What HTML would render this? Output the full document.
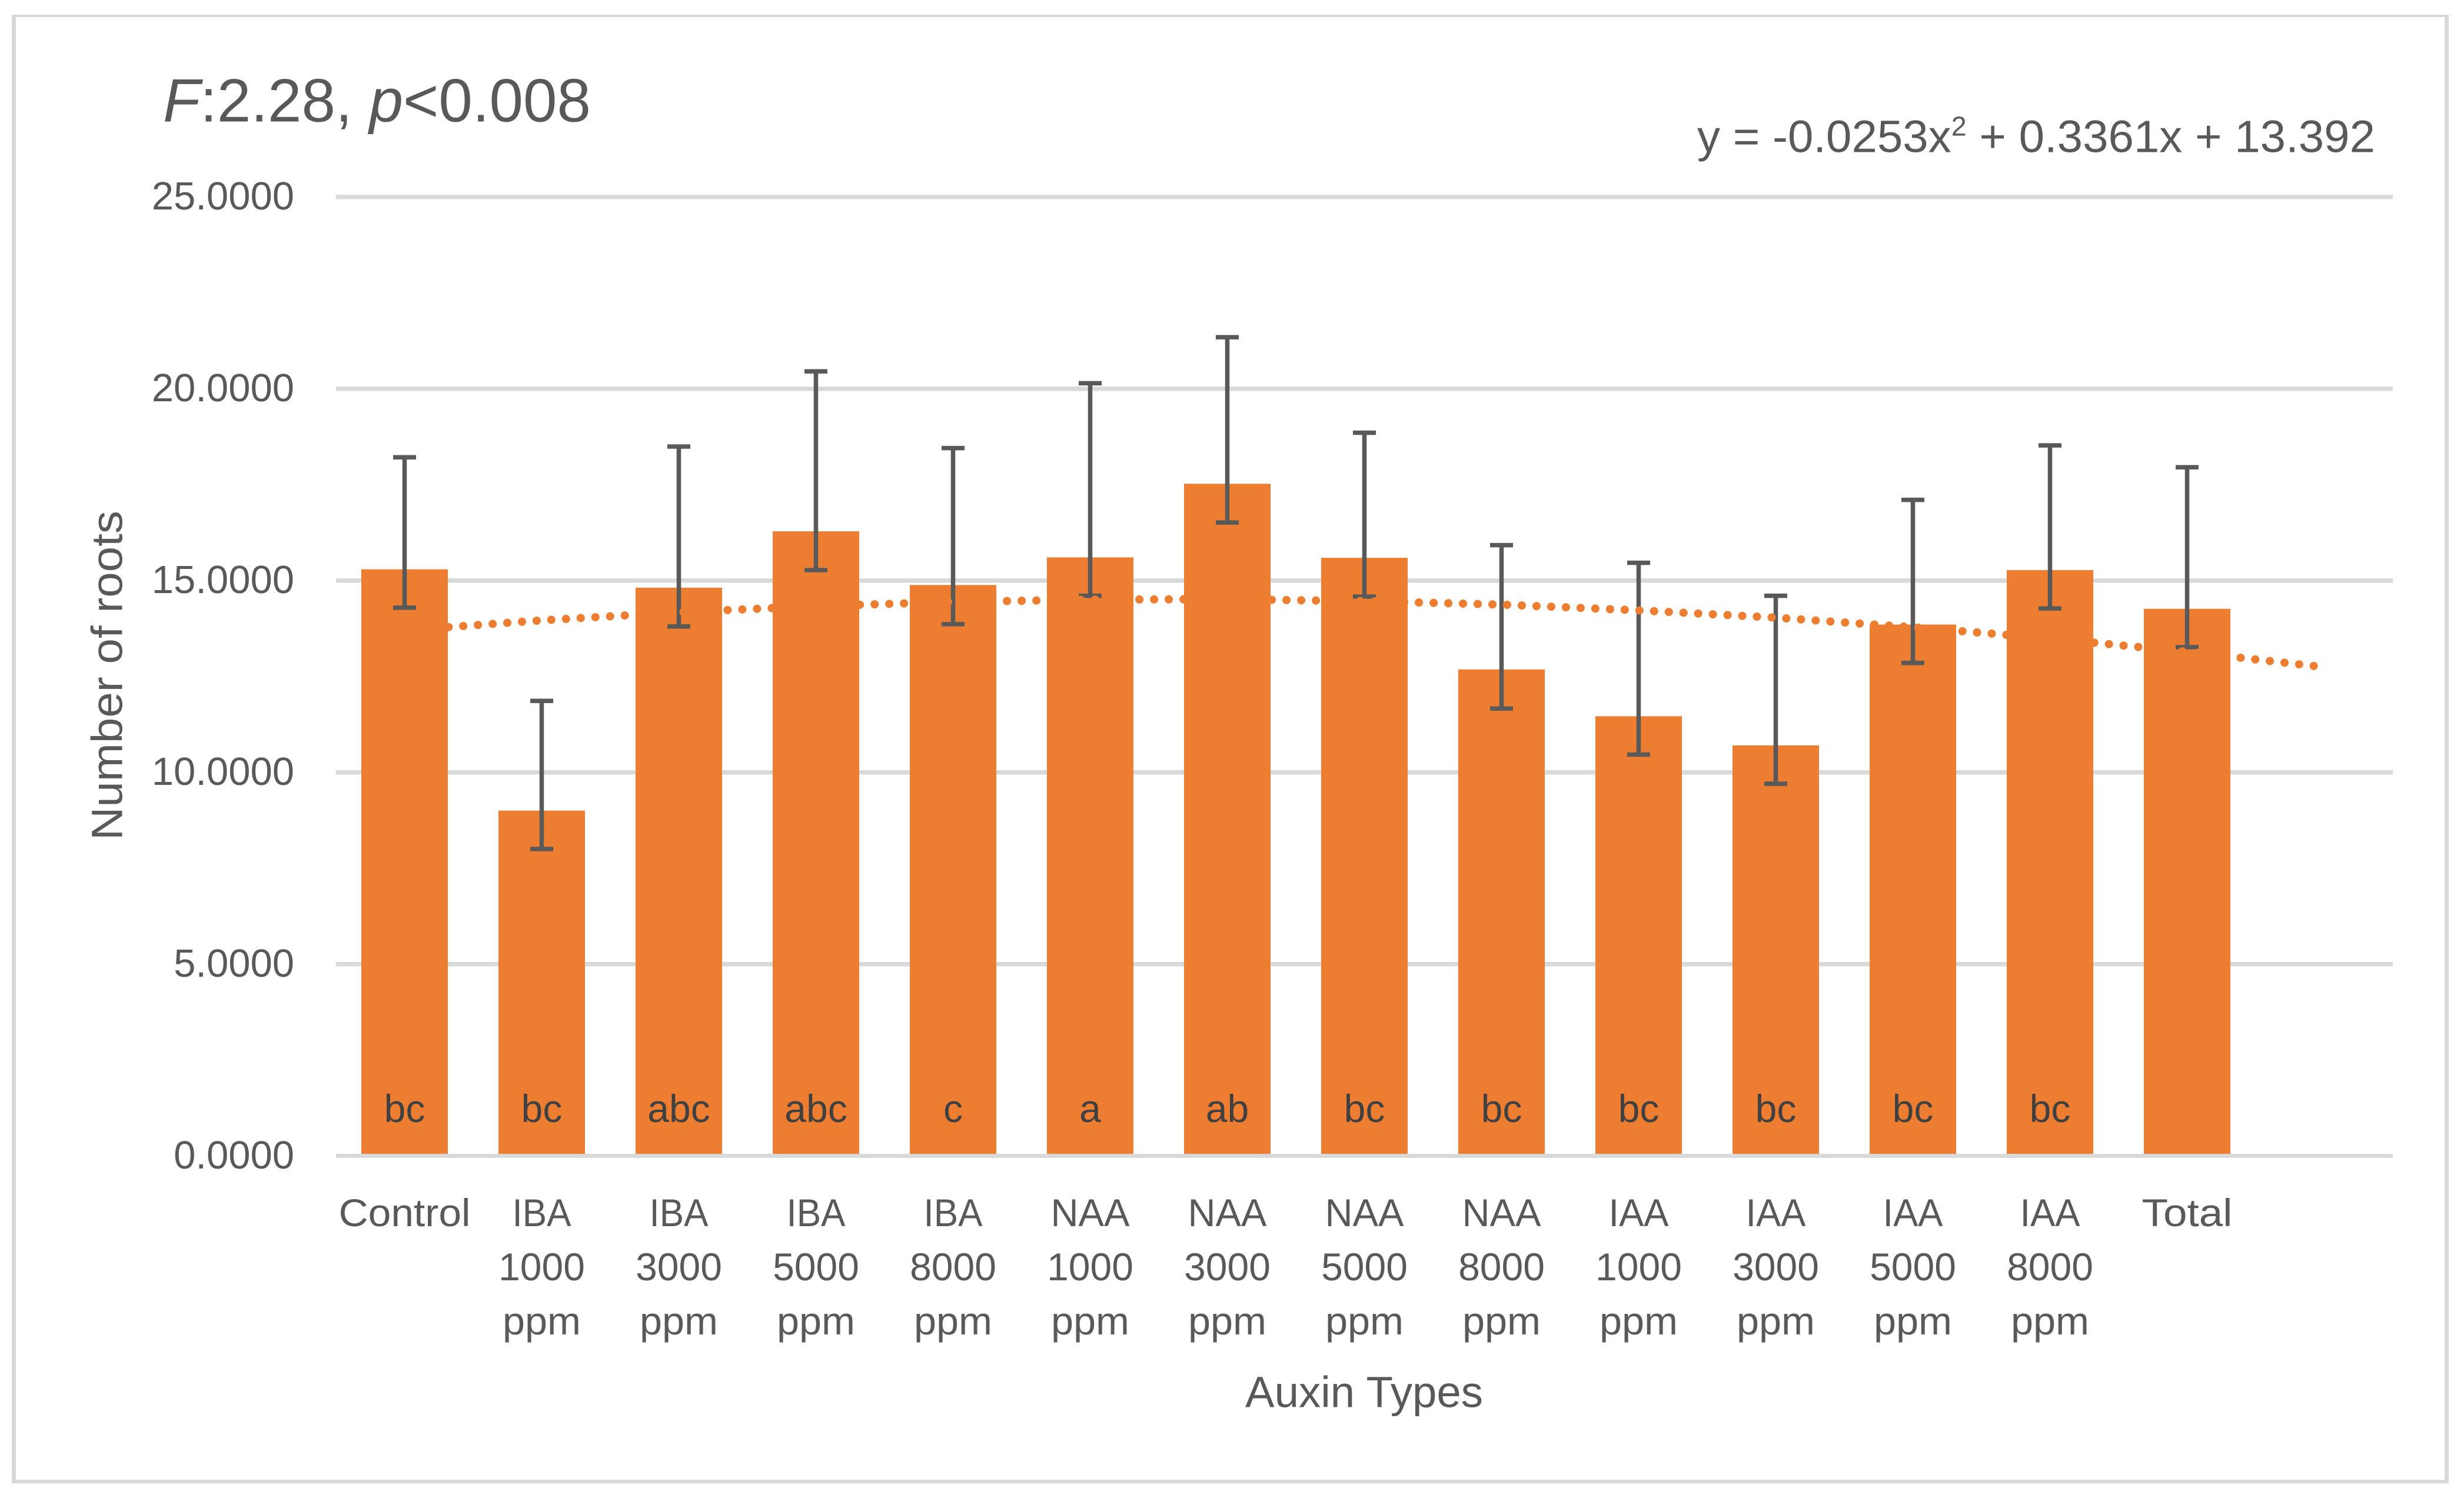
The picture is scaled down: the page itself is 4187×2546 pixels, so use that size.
<!DOCTYPE html>
<html lang="en">
<head>
<meta charset="utf-8">
<title>Number of roots by auxin type</title>
<style>
  html, body { margin: 0; padding: 0; background: #ffffff; }
  svg { display: block; font-family: "Liberation Sans", sans-serif; }
</style>
</head>
<body>
<svg id="chart" xmlns="http://www.w3.org/2000/svg" width="4187" height="2546" viewBox="0 0 4187 2546">
  <rect x="0" y="0" width="4187" height="2546" fill="#ffffff"/>
  <g fill="#D9D9D9">
    <rect x="20" y="25" width="4141" height="4"/>
    <rect x="20" y="25" width="7" height="2496"/>
    <rect x="4154" y="25" width="7" height="2496"/>
    <rect x="20" y="2515" width="4141" height="6"/>
  </g>
  <text x="277" y="206.5" font-size="104" fill="#595959" textLength="727" lengthAdjust="spacingAndGlyphs"><tspan font-style="italic">F</tspan>:2.28, <tspan font-style="italic">p</tspan>&lt;0.008</text>
  <text x="2884" y="258.5" font-size="77" fill="#595959" textLength="1152" lengthAdjust="spacingAndGlyphs">y = -0.0253x<tspan font-size="46" dy="-28">2</tspan><tspan dy="28"> + 0.3361x + 13.392</tspan></text>
  <text transform="translate(207.5 1428) rotate(-90)" x="0" y="0" font-size="74" fill="#595959" textLength="560" lengthAdjust="spacingAndGlyphs">Number of roots</text>
  <text x="2116" y="2391.5" font-size="74" fill="#595959" textLength="404" lengthAdjust="spacingAndGlyphs">Auxin Types</text>
  <g id="grid"></g>
  <g id="yticks"></g>
  <g id="bars"></g>
  <g id="axisline"></g>
  <g id="letters"></g>
  <g id="errors"></g>
  <g id="trend"></g>
  <g id="xticks"></g>
</svg>
<script>
const categories = [
  ["Control"],
  ["IBA", "1000", "ppm"], ["IBA", "3000", "ppm"], ["IBA", "5000", "ppm"], ["IBA", "8000", "ppm"],
  ["NAA", "1000", "ppm"], ["NAA", "3000", "ppm"], ["NAA", "5000", "ppm"], ["NAA", "8000", "ppm"],
  ["IAA", "1000", "ppm"], ["IAA", "3000", "ppm"], ["IAA", "5000", "ppm"], ["IAA", "8000", "ppm"],
  ["Total"]
];
const meanValues = [15.29, 9.00, 14.81, 16.28, 14.88, 15.60, 17.52, 15.59, 12.68, 11.46, 10.70, 13.85, 15.27, 14.26];
const errorTop = [18.21, 11.86, 18.49, 20.45, 18.45, 20.14, 21.34, 18.85, 15.92, 15.46, 14.60, 17.10, 18.52, 17.95];
const errorBottom = [14.29, 8.00, 13.80, 15.27, 13.86, 14.60, 16.51, 14.58, 11.66, 10.46, 9.70, 12.85, 14.27, 13.26];
const letters = ["bc", "bc", "abc", "abc", "c", "a", "ab", "bc", "bc", "bc", "bc", "bc", "bc", ""];
const trendPositions = [1, 2, 3, 4, 5, 6, 7, 8, 9, 10, 11, 12, 13, 14, 15];
const trendValues = [13.70, 13.96, 14.17, 14.33, 14.44, 14.50, 14.51, 14.46, 14.37, 14.22, 14.03, 13.78, 13.49, 13.14, 12.74];
const tickValues = [0, 5, 10, 15, 20, 25];
const tickLabels = ["0.0000", "5.0000", "10.0000", "15.0000", "20.0000", "25.0000"];

const NS = "http://www.w3.org/2000/svg";
const plotLeft = 571, plotRight = 4066, y0 = 1964.5, pxPerUnit = 65.2;
const slotCount = 15;
const slot = (plotRight - plotLeft) / slotCount;
const barWidth = 147, capWidth = 39, capThick = 7.5, stemWidth = 7.5;
const xScale = function (pos) { return plotLeft + slot * (pos - 0.5); };
const yScale = function (v) { return y0 - v * pxPerUnit; };

/* rendered width of each x-tick word, fitted to the reference typeface */
const wordWidth = { Control: 224, Total: 154, IBA: 100, NAA: 134, IAA: 102, ppm: 133 };

function make(tag, attrs, parent, text) {
  const el = document.createElementNS(NS, tag);
  for (const k in attrs) el.setAttribute(k, attrs[k]);
  if (text !== undefined) el.textContent = text;
  parent.appendChild(el);
  return el;
}

const gridG = document.getElementById("grid");
const tickG = document.getElementById("yticks");
tickValues.forEach(function (v, i) {
  const y = yScale(v);
  if (v !== 0) {
    const line = make("rect", { x: plotLeft, y: y - 3.5, width: plotRight - plotLeft, height: 7.5, fill: "#D9D9D9" }, gridG);
    
    
  }
  const lab = make("text", { x: 500, y: y + 21.5, "text-anchor": "end", "font-size": 67, fill: "#595959" }, tickG, tickLabels[i]);
  
  
});

const barsG = document.getElementById("bars");
const errG = document.getElementById("errors");
const lettersG = document.getElementById("letters");
const xTickG = document.getElementById("xticks");
meanValues.forEach(function (v, i) {
  const cx = xScale(i + 1);
  const bar = make("rect", { x: cx - barWidth / 2, y: yScale(v), width: barWidth, height: yScale(0) - yScale(v), fill: "#ED7D31" }, barsG);
  
  

  const top = yScale(errorTop[i]), bottom = yScale(errorBottom[i]);
  const stem = make("rect", { x: cx - stemWidth / 2, y: top, width: stemWidth, height: bottom - top, fill: "#595959" }, errG);
  
  
  const capTop = make("rect", { x: cx - capWidth / 2, y: top - capThick / 2, width: capWidth, height: capThick, fill: "#595959" }, errG);
  
  
  const capBottom = make("rect", { x: cx - capWidth / 2, y: bottom - capThick / 2, width: capWidth, height: capThick, fill: "#595959" }, errG);
  
  

  if (letters[i]) {
    const letter = make("text", { x: cx, y: 1907, "text-anchor": "middle", "font-size": 66, fill: "#404040" }, lettersG, letters[i]);
    
    
  }

  const lineBaselines = [2084, 2176, 2268];
  categories[i].forEach(function (word, j) {
    const lab = make("text", { x: cx, y: lineBaselines[j], "text-anchor": "middle", "font-size": 66, fill: "#595959" }, xTickG, word);
    if (wordWidth[word]) {
      lab.setAttribute("textLength", wordWidth[word]);
      lab.setAttribute("lengthAdjust", "spacingAndGlyphs");
    }
    
    
  });
});

const axisG = document.getElementById("axisline");
const axisRect = make("rect", { x: plotLeft, y: y0 - 3.5, width: plotRight - plotLeft, height: 7, fill: "#D9D9D9" }, axisG);



const trendG = document.getElementById("trend");
const trendPts = trendPositions.map(function (p, i) {
  return xScale(p).toFixed(2) + "," + yScale(trendValues[i]).toFixed(2);
}).join(" ");
const trend = make("polyline", {
  points: trendPts, fill: "none", stroke: "#ED7D31", "stroke-width": 14,
  "stroke-linecap": "round", "stroke-dasharray": "0.01 24.99"
}, trendG);


</script>
</body>
</html>
